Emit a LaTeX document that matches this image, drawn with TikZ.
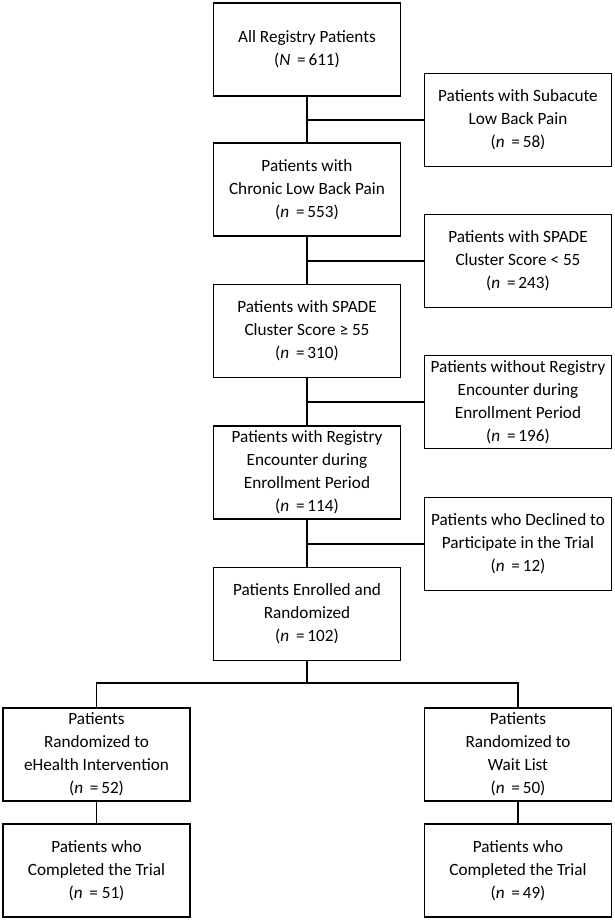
\documentclass[tikz,border=0pt]{standalone}
\usepackage{fontspec}
\setmainfont{Carlito}
\begin{document}
\begin{tikzpicture}[x=1pt,y=-1pt,
  box/.style={draw, line width=1.4pt, minimum width=187pt, minimum height=93pt, align=center, inner sep=2pt, font=\fontsize{17.2}{23}\selectfont},
  link/.style={line width=1.4pt}]
\useasboundingbox (0,0) rectangle (615,920);
\newcommand{\nn}[1]{(\textit{n}\ \,=\,#1)}
% main column
\node[box] (b1) at (307,49.5) {All Registry Patients\\(\textit{N}\ \,=\,611)};
\node[box] (b2) at (307,189.5) {Patients with\\Chronic Low Back Pain\\\nn{553}};
\node[box] (b3) at (307,331) {Patients with SPADE\\Cluster Score ≥ 55\\\nn{310}};
\node[box] (b4) at (307,472.5) {Patients with Registry\\Encounter during\\Enrollment Period\\\nn{114}};
\node[box] (b5) at (307,614) {Patients Enrolled and\\Randomized\\\nn{102}};
% side boxes
\node[box] (s1) at (518,120) {Patients with Subacute\\Low Back Pain\\\nn{58}};
\node[box] (s2) at (518,261) {Patients with SPADE\\Cluster Score < 55\\\nn{243}};
\node[box] (s3) at (518,402) {Patients without Registry\\Encounter during\\Enrollment Period\\\nn{196}};
\node[box] (s4) at (518,544) {Patients who Declined to\\Participate in the Trial\\\nn{12}};
% bottom
\node[box] (l1) at (96.5,754.5) {Patients\\Randomized to\\eHealth Intervention\\\nn{52}};
\node[box] (l2) at (96.5,870.5) {Patients who\\Completed the Trial\\(\textit{n}\ \,=\ 51)};
\node[box] (r1) at (518,754.5) {Patients\\Randomized to\\Wait List\\\nn{50}};
\node[box] (r2) at (518,870.5) {Patients who\\Completed the Trial\\\nn{49}};
% connectors
\draw[link] (b1.south) -- (b2.north);
\draw[link] (b2.south) -- (b3.north);
\draw[link] (b3.south) -- (b4.north);
\draw[link] (b4.south) -- (b5.north);
\draw[link] (b1.south |- s1.west) -- (s1.west);
\draw[link] (b2.south |- s2.west) -- (s2.west);
\draw[link] (b3.south |- s3.west) -- (s3.west);
\draw[link] (b4.south |- s4.west) -- (s4.west);
\coordinate (split) at (307,683);
\draw[link] (b5.south) -- (split);
\draw[link] (l1.north) |- (split) -| (r1.north);
\draw[link] (l1.south) -- (l2.north);
\draw[link] (r1.south) -- (r2.north);
\end{tikzpicture}
\end{document}
